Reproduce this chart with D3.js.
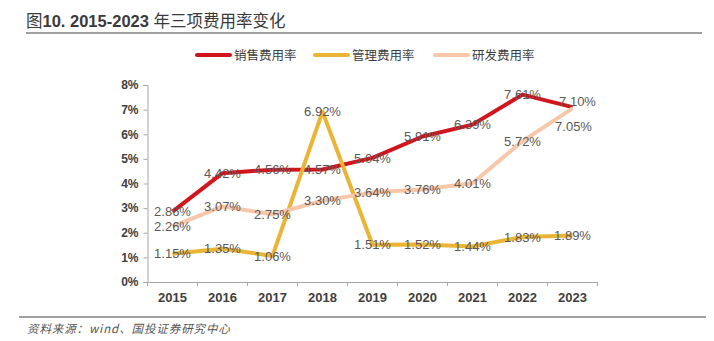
<!DOCTYPE html>
<html>
<head>
<meta charset="utf-8">
<script src="https://cdn.jsdelivr.net/npm/d3@7/dist/d3.min.js"></script>
<style>
  html, body { margin: 0; padding: 0; background: #fff; }
  svg { display: block; }
</style>
</head>
<body>
<svg id="chart" width="714" height="341"></svg>
<script>
// Years on the x axis
const years = ["2015", "2016", "2017", "2018", "2019", "2020", "2021", "2022", "2023"];
// Expense ratios, in percent
const salesRatio = [2.86, 4.42, 4.56, 4.57, 5.04, 5.91, 6.39, 7.61, 7.10];
const adminRatio = [1.15, 1.35, 1.06, 6.92, 1.51, 1.52, 1.44, 1.83, 1.89];
const rdRatio    = [2.26, 3.07, 2.75, 3.30, 3.64, 3.76, 4.01, 5.72, 7.05];
// Series names
const seriesNames = ["销售费用率", "管理费用率", "研发费用率"];
// Y axis ticks, in percent
const yTicks = [0, 1, 2, 3, 4, 5, 6, 7, 8];

const colors = ["#D2141C", "#EBB434", "#F8C6A8"];
const series = [salesRatio, adminRatio, rdRatio].map((values, i) => ({
  name: seriesNames[i],
  color: colors[i],
  points: values.map((v, j) => ({ year: years[j], value: v }))
}));

const svg = d3.select("#chart");
const cjk = "'Noto Sans CJK SC', 'Liberation Sans', sans-serif";
const latin = "'Liberation Sans', Arial, sans-serif";
const textColor = "#404040";
const labelColor = "#595959";

// Title: CJK in regular weight, figures in bold
const title = svg.append("text")
  .attr("x", 26).attr("y", 27)
  .attr("font-size", 16.5)
  .attr("fill", "#3a3a3a");
title.append("tspan").attr("font-family", cjk).text("图");
title.append("tspan").attr("font-family", latin).attr("font-weight", "bold").text("10. 2015-2023 ");
title.append("tspan").attr("font-family", cjk).text("年三项费用率变化");

svg.append("line")
  .attr("x1", 26).attr("x2", 702).attr("y1", 33).attr("y2", 33)
  .attr("stroke", "#808080").attr("stroke-width", 1.5);
svg.append("line")
  .attr("x1", 19).attr("x2", 706).attr("y1", 317).attr("y2", 317)
  .attr("stroke", "#808080").attr("stroke-width", 1.5);
svg.append("text")
  .attr("x", 27).attr("y", 333)
  .attr("font-family", cjk)
  .attr("font-size", 11.5)
  .attr("font-style", "italic")
  .attr("letter-spacing", 0.9)
  .attr("fill", "#555")
  .text("资料来源：wind、国投证券研究中心");

// Plot scales
const x = d3.scaleBand().domain(years).range([147.5, 597.5]);
const y = d3.scaleLinear().domain([0, 8]).range([282, 85]);

const axisColor = "#A6A6A6";

// Y axis
const yAxis = svg.append("g")
  .attr("transform", "translate(147.5,0)")
  .call(d3.axisLeft(y).tickValues(yTicks).tickSize(4).tickPadding(5).tickFormat(d => d + "%"));
yAxis.select(".domain").attr("stroke", axisColor);
yAxis.selectAll(".tick line").attr("stroke", axisColor);
yAxis.selectAll(".tick text")
  .attr("font-family", latin).attr("font-size", 12).attr("font-weight", "bold")
  .attr("fill", textColor);

// X axis with ticks on band edges
const xAxis = svg.append("g")
  .attr("transform", "translate(0,282)")
  .call(d3.axisBottom(x).tickSize(0).tickPadding(11));
xAxis.select(".domain").attr("stroke", axisColor);
xAxis.selectAll(".tick text")
  .attr("font-family", latin).attr("font-size", 13).attr("font-weight", "bold")
  .attr("fill", textColor);
const edges = years.map(d => x(d)).concat([x.range()[1]]);
xAxis.selectAll("line.edge").data(edges).enter().append("line")
  .attr("class", "edge")
  .attr("x1", d => d).attr("x2", d => d)
  .attr("y1", 0).attr("y2", 4)
  .attr("stroke", axisColor);

// Lines
const cx = d => x(d.year) + x.bandwidth() / 2;
const line = d3.line().x(cx).y(d => y(d.value));
svg.append("g").selectAll("path").data(series).enter().append("path")
  .attr("d", s => line(s.points))
  .attr("fill", "none")
  .attr("stroke", s => s.color)
  .attr("stroke-width", 4)
  .attr("stroke-linejoin", "round");

// Value labels, centred on the points; the last two nudged apart
const nudge = { "0-2023": [5, -6], "2-2023": [1, 18] };
const labels = svg.append("g");
series.forEach((s, i) => {
  labels.selectAll(null).data(s.points).enter().append("text")
    .attr("x", d => cx(d) + ((nudge[i + "-" + d.year] || [0, 0])[0]))
    .attr("y", d => y(d.value) + ((nudge[i + "-" + d.year] || [0, 0])[1]))
    .attr("dy", "0.36em")
    .attr("text-anchor", "middle")
    .attr("font-family", latin)
    .attr("font-size", 13)
    .attr("fill", labelColor)
    .text(d => d.value.toFixed(2) + "%");
});

// Legend
const legendX = [197, 315, 435];
const legend = svg.append("g");
series.forEach((s, i) => {
  legend.append("line")
    .attr("x1", legendX[i]).attr("x2", legendX[i] + 33)
    .attr("y1", 55).attr("y2", 55)
    .attr("stroke", s.color).attr("stroke-width", 4)
    .attr("stroke-linecap", "round");
  legend.append("text")
    .attr("x", legendX[i] + 37).attr("y", 55)
    .attr("dy", "0.36em")
    .attr("font-family", cjk)
    .attr("font-size", 12.5)
    .attr("fill", textColor)
    .text(s.name);
});
</script>
</body>
</html>
